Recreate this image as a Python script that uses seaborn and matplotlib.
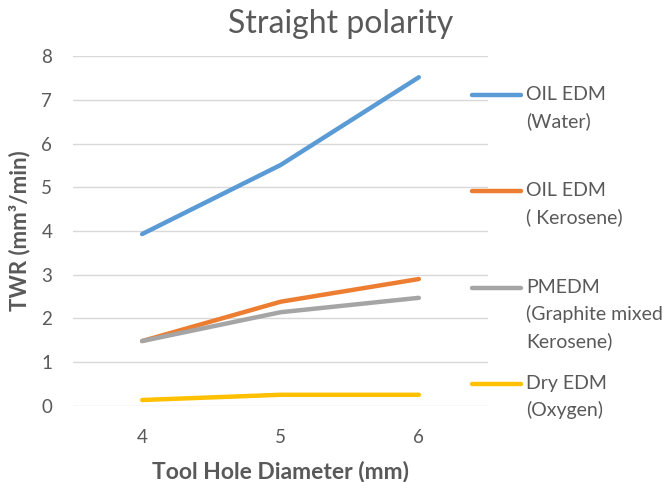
import matplotlib
matplotlib.use("Agg")
import matplotlib.pyplot as plt
from matplotlib.lines import Line2D
import seaborn as sns
import pandas as pd

# Tool hole diameters (mm)
diameters = [4, 5, 6]

# Tool wear rate (mm^3/min) for each dielectric
oil_water = [3.93, 5.51, 7.52]
oil_kerosene = [1.48, 2.38, 2.90]
pmedm_graphite = [1.48, 2.14, 2.47]
dry_oxygen = [0.13, 0.25, 0.25]

series_names = [
    "OIL EDM\n(Water)",
    "OIL EDM\n( Kerosene)",
    "PMEDM\n(Graphite mixed\nKerosene)",
    "Dry EDM\n(Oxygen)",
]
series_values = [oil_water, oil_kerosene, pmedm_graphite, dry_oxygen]
colors = ["#5B9BD5", "#ED7D31", "#A5A5A5", "#FFC000"]
y_ticks = [0, 1, 2, 3, 4, 5, 6, 7, 8]

rows = []
for name, vals in zip(series_names, series_values):
    for d, v in zip(diameters, vals):
        rows.append({"diameter": d, "twr": v, "series": name})
df = pd.DataFrame(rows)

sns.set_theme(style="white")
plt.rcParams["font.family"] = ["Lato", "DejaVu Sans"]
text_color = "#595959"

fig = plt.figure(figsize=(6.7, 4.82), dpi=100)
ax = fig.add_axes([73 / 670, 1 - 405.7 / 482, (488 - 73) / 670, (405.7 - 56.3) / 482])

sns.lineplot(
    data=df, x="diameter", y="twr", hue="series",
    palette=dict(zip(series_names, colors)),
    hue_order=series_names, linewidth=3.2, ax=ax, legend=False,
)
for line in ax.get_lines():
    line.set_solid_capstyle("round")

ax.set_xlim(3.5, 6.5)
ax.set_ylim(0, 8)
ax.set_xticks(diameters)
ax.set_xticklabels([str(d) for d in diameters])
ax.set_yticks(y_ticks)
ax.grid(axis="y", color="#D9D9D9", linewidth=1)
ax.set_axisbelow(True)
for s in ax.spines.values():
    s.set_visible(False)
ax.tick_params(axis="both", length=0, colors=text_color, labelsize=13.5)
ax.tick_params(axis="y", pad=15)
ax.tick_params(axis="x", pad=17)

ax.set_xlabel("Tool Hole Diameter (mm)", fontsize=16.5, fontweight="bold",
              color=text_color, labelpad=10)
ax.set_ylabel("TWR (mm³/min)", fontsize=16, fontweight="bold",
              color=text_color, labelpad=8)
fig.text(341 / 670, 1 - 24 / 482, "Straight polarity", fontsize=23,
         color=text_color, ha="center", va="center")

# Legend drawn at the right, handle aligned with the first text line
legend_y = [95, 191, 288, 384]
for name, col, ypx in zip(series_names, colors, legend_y):
    yf = 1 - ypx / 482
    fig.add_artist(Line2D([472 / 670, 521 / 670], [yf, yf], color=col,
                          linewidth=3.2, solid_capstyle="round",
                          transform=fig.transFigure))
    fig.text(526 / 670, yf + 9 / 482, name, fontsize=14, color=text_color,
             va="top", ha="left", linespacing=1.62)

fig.savefig("out.png", dpi=100, facecolor="white")
